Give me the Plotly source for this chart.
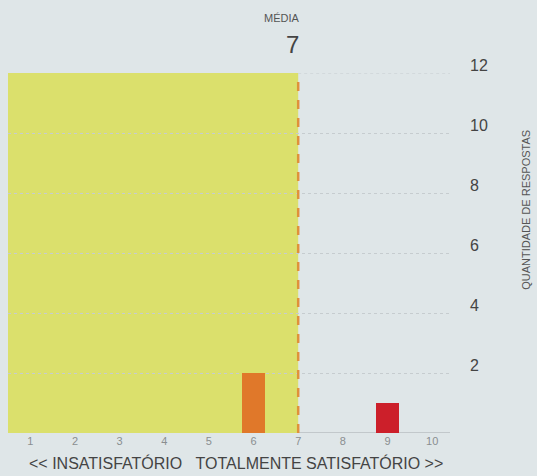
import plotly.graph_objects as go

# ---- data ----
scores = [1, 2, 3, 4, 5, 6, 7, 8, 9, 10]
counts = [0, 0, 0, 0, 0, 2, 0, 0, 1, 0]
mean_score = 7
y_ticks = [2, 4, 6, 8, 10, 12]
y_max = 12

# ---- style ----
BG = "#dfe6e8"
YELLOW = "#dbe06c"
GRID = "#c6cccf"
bar_colors = ["#e0782a" if s <= mean_score else "#cc1f2a" for s in scores]
FONT = "Liberation Sans, Arial, sans-serif"

fig = go.Figure()
fig.add_trace(go.Bar(
    x=scores, y=counts, width=0.5,
    marker=dict(color=bar_colors, line=dict(width=0)),
    hoverinfo="x+y",
))

x_lo, x_hi = 0.5, 10.4

shapes = [
    dict(type="rect", xref="x", yref="y", x0=x_lo, x1=mean_score, y0=0, y1=y_max,
         fillcolor=YELLOW, line=dict(width=0), layer="below"),
    dict(type="line", xref="x", yref="y", x0=mean_score, x1=x_hi, y0=0, y1=0,
         line=dict(color="#b9bec2", width=1.5), layer="below"),
    dict(type="line", xref="x", yref="y", x0=mean_score, x1=x_hi, y0=y_max, y1=y_max,
         line=dict(color=GRID, width=1, dash="dot"), layer="below"),
    dict(type="line", xref="x", yref="y", x0=mean_score, x1=mean_score, y0=0, y1=y_max,
         line=dict(color="#e0913a", width=2.5, dash="dash"), layer="above"),
]

annotations = [
    dict(text="MÉDIA", x=mean_score, xref="x", xanchor="right", xshift=4,
         y=1, yref="paper", yanchor="middle", yshift=55, showarrow=False,
         font=dict(family=FONT, size=11, color="#555")),
    dict(text=str(mean_score), x=mean_score, xref="x", xanchor="right", xshift=3,
         y=1, yref="paper", yanchor="middle", yshift=29, showarrow=False,
         font=dict(family=FONT, size=24, color="#444")),
    dict(text="QUANTIDADE DE RESPOSTAS", textangle=-90, x=1, xref="paper", xanchor="center",
         xshift=76, y=0.62, yref="paper", yanchor="middle", showarrow=False,
         font=dict(family=FONT, size=11, color="#555")),
    dict(text="&lt;&lt; INSATISFATÓRIO &nbsp;&nbsp;TOTALMENTE SATISFATÓRIO &gt;&gt;",
         x=0.515, xref="paper", xanchor="center",
         y=0, yref="paper", yanchor="middle", yshift=-30, showarrow=False,
         font=dict(family=FONT, size=16, color="#444")),
]

fig.update_layout(
    width=537, height=476,
    margin=dict(l=8, r=87, t=73, b=43),
    paper_bgcolor=BG, plot_bgcolor=BG,
    showlegend=False,
    shapes=shapes, annotations=annotations,
    bargap=0,
    xaxis=dict(range=[x_lo, x_hi], tickvals=scores, ticktext=[str(s) for s in scores],
               showgrid=False, zeroline=False, showline=False, ticks="",
               tickfont=dict(family=FONT, size=11, color="#8a8e90"), fixedrange=True),
    yaxis=dict(range=[0, y_max], side="right", tickvals=y_ticks,
               ticktext=[str(v) for v in y_ticks],
               showgrid=True, gridcolor=GRID, griddash="dot", gridwidth=1,
               zeroline=False, showline=False, ticks="",
               ticklabelstandoff=19, ticklabelshift=-8,
               tickfont=dict(family=FONT, size=16, color="#444"), fixedrange=True),
)

fig.write_html(
    "out.html",
    config={"displayModeBar": False},
    post_script="document.body.style.margin='0';document.body.style.overflow='hidden';",
)
